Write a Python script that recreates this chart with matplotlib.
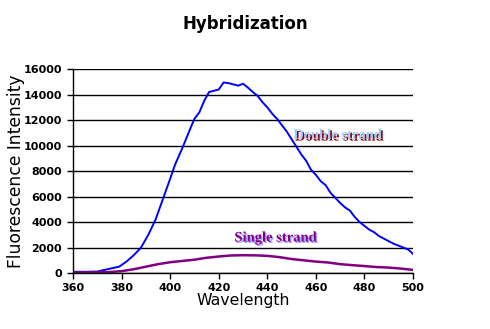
import numpy as np
import matplotlib.pyplot as plt
import matplotlib.patheffects as pe

# emission spectra
wl_double = [360, 365, 370, 373, 376, 379, 382, 385, 388, 391, 394, 397, 400, 402,
             405, 408, 410, 412, 414, 416, 418, 420, 422, 424, 426, 428, 430, 432,
             434, 436, 438, 440, 442, 444, 446, 448, 450, 452, 454, 456, 458, 460,
             462, 464, 466, 468, 470, 472, 474, 476, 478, 480, 482, 484, 486, 488,
             490, 492, 494, 496, 498, 500]
double_strand = [100, 100, 120, 250, 380, 500, 900, 1400, 2000, 3000, 4200, 5800,
                 7400, 8500, 9800, 11200, 12100, 12600, 13500, 14200, 14300, 14400,
                 14950, 14900, 14800, 14700, 14850, 14550, 14200, 13900, 13400, 13000,
                 12500, 12100, 11600, 11100, 10500, 9900, 9300, 8800, 8100, 7700,
                 7200, 6900, 6300, 5900, 5500, 5150, 4900, 4400, 4000, 3700, 3400,
                 3200, 2900, 2700, 2500, 2300, 2150, 2000, 1850, 1500]

wl_single = [360, 370, 375, 380, 385, 390, 395, 400, 405, 410, 415, 420, 425, 430,
             435, 440, 445, 450, 455, 460, 465, 470, 475, 480, 485, 490, 495, 500]
single_strand = [50, 60, 80, 150, 300, 500, 700, 850, 950, 1050, 1200, 1300, 1380,
                 1400, 1390, 1350, 1250, 1100, 1000, 900, 830, 700, 620, 550, 470,
                 430, 350, 250]

fig = plt.figure(figsize=(4.9, 3.29), dpi=100)
ax = fig.add_axes([0.149, 0.170, 0.694, 0.620])

ax.plot(wl_double, double_strand, color='#0000ff', lw=1.4)
ax.plot(wl_single, single_strand, color='#800080', lw=1.8)

ax.set_xlim(360, 500)
ax.set_ylim(0, 16000)
ax.set_xticks(np.arange(360, 501, 20))
ax.set_yticks(np.arange(0, 16001, 2000))
ax.yaxis.grid(True, color='black', lw=1.0)
ax.set_axisbelow(True)
for s in ['top', 'right']:
    ax.spines[s].set_visible(False)
for s in ['left', 'bottom']:
    ax.spines[s].set_linewidth(1.0)
ax.tick_params(axis='x', labelsize=8, length=4, width=1, direction='out', pad=3)
ax.tick_params(axis='y', labelsize=8, length=4, width=1, direction='out', pad=4)
for lab in ax.get_xticklabels() + ax.get_yticklabels():
    lab.set_fontweight('bold')

ax.set_xlabel('Wavelength', fontsize=11.3, labelpad=0)
ax.set_ylabel('Fluorescence Intensity', fontsize=12.3, labelpad=-1)
fig.suptitle('Hybridization', fontsize=12, fontweight='bold', x=0.5, y=0.955)

# labels with a drop shadow
label_kw = dict(fontsize=10.5, fontweight='bold', family='Liberation Serif',
                ha='center', va='center')
ax.text(469, 10800, 'Double strand', color='#99ccff',
        path_effects=[pe.withSimplePatchShadow(offset=(1.2, -1.2),
                                               shadow_rgbFace='#990000', alpha=1.0)],
        **label_kw)
ax.text(443.5, 2750, 'Single strand', color='#800080',
        path_effects=[pe.withSimplePatchShadow(offset=(1.0, -1.0),
                                               shadow_rgbFace='#9999ff', alpha=1.0)],
        **label_kw)

fig.savefig('out.png', dpi=100)
